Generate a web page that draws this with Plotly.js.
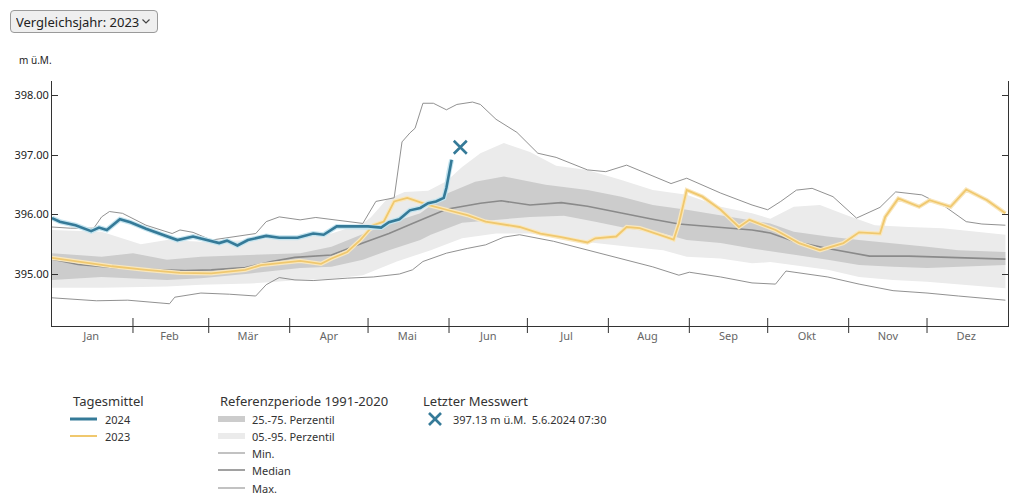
<!DOCTYPE html>
<html><head><meta charset="utf-8">
<script src="https://cdn.plot.ly/plotly-3.0.1.min.js"></script>
<style>
body{margin:0;background:#fff;font-family:"Noto Sans",sans-serif;}
#wrap{position:relative;width:1024px;height:500px;}
#chart{position:absolute;left:0;top:0;width:1024px;height:500px;}
#sel{position:absolute;left:10px;top:10px;z-index:5;font-family:"Noto Sans",sans-serif;font-size:13px;height:23px;width:148px;
  background-color:#efefef;border:1px solid #9a9a9a;border-radius:4px;color:#222;padding:0 18px 0 5px;
  -webkit-appearance:none;appearance:none;
  background-image:url("data:image/svg+xml;utf8,<svg xmlns='http://www.w3.org/2000/svg' width='8' height='5'><path d='M0.5 0.5 L4 4 L7.5 0.5' fill='none' stroke='%23444' stroke-width='1.2'/></svg>");
  background-repeat:no-repeat;background-position:right 7px center;}
</style></head><body>
<div id="wrap"><select id="sel"><option>Vergleichsjahr: 2023</option><option>Vergleichsjahr: 2022</option></select><div id="chart"></div></div>
<script>
// ---- data (day of year, 0 = 1 Jan) ----
const monthLabels = ['Jan','Feb','Mär','Apr','Mai','Jun','Jul','Aug','Sep','Okt','Nov','Dez'];
const monthStarts = ['2024-01-01','2024-02-01','2024-03-01','2024-04-01','2024-05-01','2024-06-01','2024-07-01','2024-08-01','2024-09-01','2024-10-01','2024-11-01','2024-12-01','2025-01-01'];
const yTicks = [395, 396, 397, 398];

const medDays = [0,10,23,36,51,61,74,84,93,107,119,129,138,151,164,172,183,195,205,218,230,240,256,268,275,284,297,313,328,347,365];
const medVals = [395.25,395.16,395.11,395.08,395.06,395.07,395.11,395.21,395.28,395.32,395.52,395.68,395.85,396.09,396.19,396.23,396.16,396.20,396.14,396.02,395.92,395.84,395.78,395.74,395.69,395.55,395.43,395.30,395.30,395.27,395.25];

const p75Days = [0,19,31,44,57,76,95,107,119,129,141,151,162,173,189,205,218,230,243,256,268,275,284,297,309,322,335,347,365];
const p75Vals = [395.35,395.29,395.35,395.24,395.29,395.32,395.35,395.46,395.68,395.85,396.02,396.35,396.55,396.64,396.50,396.41,396.30,396.16,396.08,395.99,395.91,395.85,395.71,395.63,395.57,395.52,395.46,395.40,395.37];

const p25Days = [0,19,31,44,57,76,95,107,119,129,141,145,157,170,183,196,208,221,234,243,256,268,275,284,297,309,322,335,347,365];
const p25Vals = [394.90,394.95,394.93,394.90,394.93,395.01,395.10,395.12,395.24,395.40,395.57,395.66,395.86,395.91,395.96,395.98,395.88,395.76,395.68,395.57,395.52,395.43,395.38,395.32,395.24,395.15,395.12,395.10,395.12,395.15];

const p95Days = [0,19,34,44,57,76,95,107,119,122,128,135,144,151,157,164,173,183,193,205,218,230,243,256,268,275,284,294,304,315,328,341,354,365];
const p95Vals = [395.74,395.71,395.50,395.57,395.54,395.57,395.63,395.68,395.85,395.95,396.25,396.38,396.40,396.56,396.80,397.03,397.20,397.05,396.82,396.75,396.58,396.41,396.33,396.13,396.02,395.93,396.13,396.16,395.99,395.82,395.79,395.77,395.71,395.66];

const p5Days = [0,19,44,57,76,95,107,119,132,145,157,170,183,196,208,221,234,243,256,268,275,284,297,309,322,335,347,365];
const p5Vals = [394.77,394.77,394.79,394.82,394.84,394.90,394.92,394.98,395.21,395.40,395.60,395.68,395.68,395.60,395.52,395.46,395.40,395.29,395.26,395.18,395.20,395.15,395.07,394.95,394.90,394.87,394.83,394.76];

const minDays = [0,17,29,45,47,57,68,78,82,87,93,100,113,123,133,138,142,151,159,166,173,179,192,205,217,230,240,244,256,268,277,281,297,309,322,335,347,365];
const minVals = [394.60,394.55,394.56,394.50,394.61,394.68,394.66,394.63,394.82,394.94,394.90,394.89,394.93,394.95,395.00,395.07,395.21,395.35,395.43,395.49,395.62,395.66,395.55,395.40,395.26,395.12,394.98,395.03,394.95,394.85,394.83,395.05,394.95,394.83,394.72,394.68,394.63,394.56];

const maxDays = [0,7,16,19,22,27,36,46,49,54,61,69,78,82,87,95,101,119,124,131,133,134,137,139,142,146,151,155,161,164,170,178,186,193,205,212,220,228,237,243,256,268,274,279,285,291,299,308,317,323,333,342,350,356,365];
const maxVals = [395.79,395.77,395.77,395.96,396.05,396.02,395.82,395.68,395.74,395.70,395.57,395.62,395.68,395.88,395.96,395.91,395.95,395.85,396.22,396.28,396.90,397.22,397.37,397.45,397.87,397.87,397.76,397.85,397.89,397.85,397.60,397.38,397.03,396.96,396.75,396.72,396.83,396.69,396.52,396.61,396.36,396.16,396.08,396.22,396.41,396.44,396.30,395.94,396.12,396.38,396.33,396.13,395.88,395.84,395.82];

const y2024Days = [0,3,9,15,18,21,26,30,36,42,48,54,59,64,67,71,75,82,87,94,100,104,109,121,126,129,133,137,141,144,147,150,151,152,153];
const y2024Vals = [395.94,395.88,395.82,395.72,395.78,395.74,395.92,395.87,395.76,395.66,395.57,395.63,395.58,395.52,395.56,395.48,395.57,395.64,395.61,395.61,395.68,395.66,395.80,395.80,395.78,395.87,395.92,396.07,396.11,396.19,396.22,396.28,396.45,396.72,396.92];

const y2023Days = [0,10,23,36,49,61,74,80,87,95,103,107,113,118,123,127,131,136,138,144,151,159,166,174,179,187,195,205,208,216,220,225,233,238,240,243,249,256,263,267,277,286,294,303,309,317,319,324,332,336,344,350,358,365];
const y2023Vals = [395.27,395.21,395.13,395.07,395.02,395.01,395.07,395.15,395.18,395.22,395.17,395.26,395.37,395.57,395.82,395.88,396.22,396.28,396.25,396.16,396.08,395.99,395.88,395.82,395.79,395.68,395.62,395.53,395.60,395.63,395.79,395.77,395.66,395.58,395.85,396.41,396.30,396.08,395.79,395.91,395.74,395.52,395.40,395.52,395.70,395.68,395.96,396.27,396.13,396.24,396.13,396.42,396.24,396.02];

const lastTime = ['2024-06-05 07:30'];
const lastVal = [397.13];
const lastLabel = '397.13 m ü.M.  5.6.2024 07:30';

// ---- helpers ----
const d2s = d => new Date(Date.UTC(2024,0,1) + d*86400000).toISOString().slice(0,10);
const X0 = 52, X1 = 1008, Y0 = 81, Y1 = 326;
const px = x => (x - X0) / (X1 - X0);
const py = y => (Y1 - y) / (Y1 - Y0);

function band(upD, upV, loD, loV, color, name){
  return {x: upD.map(d2s).concat(loD.slice().reverse().map(d2s)),
          y: upV.concat(loV.slice().reverse()),
          type:'scatter', mode:'lines', fill:'toself', fillcolor:color,
          line:{width:0, color:color}, hoverinfo:'skip', name:name, showlegend:false};
}
function line(days, vals, color, width, name){
  return {x: days.map(d2s), y: vals, type:'scatter', mode:'lines',
          line:{color:color, width:width, shape:'linear'}, name:name, showlegend:false, hoverinfo:'skip'};
}

const C_BLUE = '#357a98', C_BLUE_HALO = '#c4e4ef';
const C_YEL = '#f0c86e', C_YEL_HALO = '#f9e7bd';
const C_DARK = '#cccccc', C_LIGHT = '#ebebeb', C_LINE = '#858585';

const traces = [
  band(p95Days, p95Vals, p5Days, p5Vals, C_LIGHT, '05.-95. Perzentil'),
  band(p75Days, p75Vals, p25Days, p25Vals, C_DARK, '25.-75. Perzentil'),
  line(medDays, medVals, '#8a8a8a', 1.6, 'Median'),
  line(minDays, minVals, C_LINE, 0.9, 'Min.'),
  line(maxDays, maxVals, C_LINE, 0.9, 'Max.'),
  line(y2023Days, y2023Vals, C_YEL_HALO, 4.2, '2023 halo'),
  line(y2023Days, y2023Vals, C_YEL, 1.8, '2023'),
  line(y2024Days, y2024Vals, C_BLUE_HALO, 5, '2024 halo'),
  line(y2024Days, y2024Vals, C_BLUE, 2.6, '2024'),
  {x:lastTime, y:lastVal, type:'scatter', mode:'markers', showlegend:false, hoverinfo:'skip',
   marker:{symbol:'x-thin', size:13, color:C_BLUE, line:{width:2.6, color:C_BLUE}}, name:'Letzter Messwert'}
];

// month boundary ticks and mid-month label positions
const shapes = [];
const midVals = [];
for (let i = 0; i < 12; i++) {
  const a = new Date(monthStarts[i]+'T00:00:00Z').getTime(), b = new Date(monthStarts[i+1]+'T00:00:00Z').getTime();
  midVals.push(new Date((a+b)/2).toISOString().slice(0,10));
  if (i > 0) shapes.push({type:'line', xref:'x', yref:'paper', x0:monthStarts[i], x1:monthStarts[i], y0:py(333), y1:py(318), line:{color:'#333', width:1}});
}

// legend (custom)
const T = '#333';
const annotations = [
  {text:'m ü.M.', xref:'paper', yref:'paper', x:px(17), y:py(60), xanchor:'left', yanchor:'middle', showarrow:false, font:{size:10, color:'#222'}},
  {text:'Tagesmittel', x:px(71), y:py(401)},
  {text:'2024', x:px(103), y:py(419), small:true},
  {text:'2023', x:px(103), y:py(436), small:true},
  {text:'Referenzperiode 1991-2020', x:px(218), y:py(401)},
  {text:'25.-75. Perzentil', x:px(250), y:py(419), small:true},
  {text:'05.-95. Perzentil', x:px(250), y:py(436), small:true},
  {text:'Min.', x:px(250), y:py(453), small:true},
  {text:'Median', x:px(250), y:py(470), small:true},
  {text:'Max.', x:px(250), y:py(488), small:true},
  {text:'Letzter Messwert', x:px(421), y:py(401)},
  {text:lastLabel, x:px(451), y:py(419), small:true}
].map((a,i) => i === 0 ? a : ({text:a.text, xref:'paper', yref:'paper', x:a.x, y:a.y, xanchor:'left', yanchor:'middle', showarrow:false,
   font:{size: a.small ? 11 : 13, color:T}}));

const seg = (x0,x1,y,color,w) => ({type:'line', xref:'paper', yref:'paper', x0:px(x0), x1:px(x1), y0:py(y), y1:py(y), line:{color:color, width:w}});
const box = (x0,x1,y0,y1,color) => ({type:'rect', xref:'paper', yref:'paper', x0:px(x0), x1:px(x1), y0:py(y1), y1:py(y0), fillcolor:color, line:{width:0}});
shapes.push(
  seg(70, 97, 419, C_BLUE, 3),
  seg(70, 97, 436, C_YEL, 2),
  box(218, 245, 416, 422, C_DARK),
  box(218, 245, 433, 439, C_LIGHT),
  seg(218, 245, 453, C_LINE, 1),
  seg(218, 245, 470, '#8a8a8a', 1.6),
  seg(218, 245, 488, C_LINE, 1),
  {type:'line', xref:'paper', yref:'paper', x0:px(429), x1:px(441), y0:py(413), y1:py(425), line:{color:C_BLUE, width:2.6}},
  {type:'line', xref:'paper', yref:'paper', x0:px(429), x1:px(441), y0:py(425), y1:py(413), line:{color:C_BLUE, width:2.6}}
);

const layout = {
  width:1024, height:500,
  margin:{l:X0, r:1024-X1, t:Y0, b:500-Y1, pad:0},
  paper_bgcolor:'#fff', plot_bgcolor:'#fff',
  font:{family:'"Noto Sans", sans-serif', size:11, color:'#222'},
  showlegend:false,
  xaxis:{type:'date', range:['2024-01-01','2025-01-01'], tickvals:midVals, ticktext:monthLabels, ticks:'',
         showline:true, linecolor:'#333', linewidth:1, showgrid:false, zeroline:false, fixedrange:true,
         tickfont:{size:11, color:'#666'}},
  yaxis:{range:[394.126, 398.244], tickvals:yTicks, tickformat:'.2f', ticks:'inside', ticklen:6, tickcolor:'#333',
         showline:true, linecolor:'#333', linewidth:1, mirror:'ticks', showgrid:false, zeroline:false, fixedrange:true,
         tickfont:{size:11, color:'#222'}},
  shapes:shapes, annotations:annotations
};
Plotly.newPlot('chart', traces, layout, {displayModeBar:false, staticPlot:true});
</script>
</body></html>
